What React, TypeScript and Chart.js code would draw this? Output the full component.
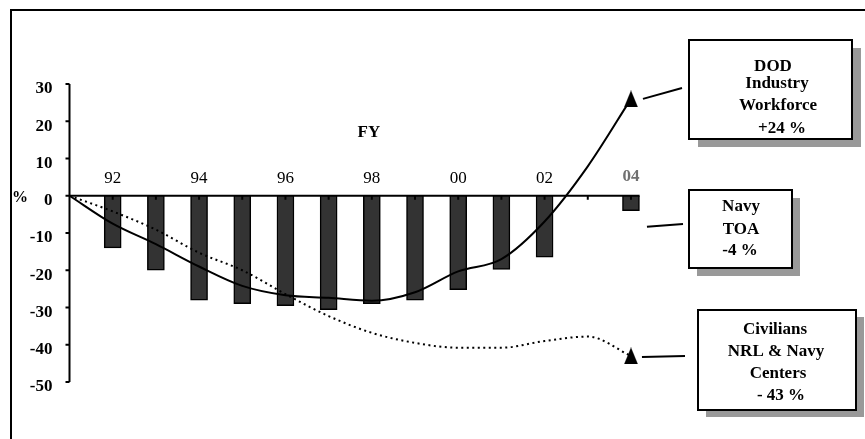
import React, { useEffect, useRef } from 'react';
import { Chart, registerables } from 'chart.js';

Chart.register(...registerables);

// ---- data ----
const years = [91, 92, 93, 94, 95, 96, 97, 98, 99, 100, 101, 102, 103, 104];
const navyTOA: (number | null)[] = [null, -14, -20, -28, -29, -29.5, -30.6, -29, -28, -25.2, -19.8, -16.5, null, -4];
const dodIndustryWorkforce = [0, -7.5, -13, -19, -24.2, -26.7, -27.4, -28.2, -25.9, -20.3, -17, -6.9, 7.9, 26];
const civiliansNRLNavy = [0, -4.2, -9.1, -15.3, -20, -26.4, -32.3, -36.8, -39.5, -40.8, -40.8, -39, -37.8, -43];
const xLabelYears = [92, 94, 96, 98, 100, 102];
const highlightYear = 104;
const yTicks = [30, 20, 10, 0, -10, -20, -30, -40, -50];
const dodBoxText = ['DOD', 'Industry', 'Workforce', '+24 %'];
const navyBoxText = ['Navy', 'TOA', '-4 %'];
const civBoxText = ['Civilians', 'NRL & Navy', 'Centers', '- 43 %'];

const FONT = '"Liberation Serif", "Times New Roman", serif';

const yearLabel = (v: number) => String(v % 100).padStart(2, '0');

function makeTriangle(): HTMLCanvasElement {
  const c = document.createElement('canvas');
  c.width = 14;
  c.height = 17;
  const g = c.getContext('2d')!;
  g.beginPath();
  g.moveTo(7, 0);
  g.lineTo(14, 17);
  g.lineTo(0, 17);
  g.closePath();
  g.fillStyle = '#000';
  g.fill();
  return c;
}

function drawBox(
  ctx: CanvasRenderingContext2D,
  x: number,
  y: number,
  w: number,
  h: number,
  sdx: number,
  sdy: number,
  lines: string[],
  pos: [number, number][]
) {
  ctx.save();
  ctx.fillStyle = '#999999';
  ctx.fillRect(x + sdx, y + sdy, w, h);
  ctx.fillStyle = '#ffffff';
  ctx.fillRect(x, y, w, h);
  ctx.strokeStyle = '#000';
  ctx.lineWidth = 2;
  ctx.strokeRect(x, y, w, h);
  ctx.fillStyle = '#000';
  ctx.font = `bold 17px ${FONT}`;
  ctx.textAlign = 'center';
  ctx.textBaseline = 'alphabetic';
  lines.forEach((t, i) => ctx.fillText(t, pos[i][0], pos[i][1]));
  ctx.restore();
}

function line(ctx: CanvasRenderingContext2D, x1: number, y1: number, x2: number, y2: number, w = 2) {
  ctx.save();
  ctx.strokeStyle = '#000';
  ctx.lineWidth = w;
  ctx.beginPath();
  ctx.moveTo(x1, y1);
  ctx.lineTo(x2, y2);
  ctx.stroke();
  ctx.restore();
}

const overlayPlugin = {
  id: 'overlay',
  afterDatasetsDraw(chart: any) {
    const ctx: CanvasRenderingContext2D = chart.ctx;
    const xs = chart.scales.x;
    const ys = chart.scales.y;
    const y0 = ys.getPixelForValue(0);
    const xLeft = xs.getPixelForValue(xs.min);
    const xRight = xs.getPixelForValue(xs.max);

    // y axis
    line(ctx, xLeft, ys.getPixelForValue(yTicks[0]), xLeft, ys.getPixelForValue(yTicks[yTicks.length - 1]), 2);
    ctx.save();
    ctx.font = `bold 17px ${FONT}`;
    ctx.fillStyle = '#000';
    ctx.textAlign = 'right';
    ctx.textBaseline = 'middle';
    yTicks.forEach((v) => {
      const py = ys.getPixelForValue(v);
      line(ctx, xLeft - 4, py, xLeft, py, 2);
      ctx.fillText(String(v), xLeft - 17, py + 5);
    });
    ctx.textAlign = 'left';
    ctx.font = `bold 16px ${FONT}`;
    ctx.fillText('%', 12, y0 + 2);
    ctx.restore();

    // x axis
    line(ctx, xLeft, y0, xRight, y0, 2);
    years.slice(1).forEach((yr) => {
      const px = xs.getPixelForValue(yr);
      line(ctx, px, y0, px, y0 + 4, 2);
    });
    ctx.save();
    ctx.fillStyle = '#000';
    ctx.textAlign = 'center';
    ctx.textBaseline = 'middle';
    ctx.font = `17px ${FONT}`;
    xLabelYears.forEach((yr) => {
      ctx.fillText(yearLabel(yr), xs.getPixelForValue(yr), y0 - 17);
    });
    ctx.font = `bold 17px ${FONT}`;
    ctx.fillStyle = '#707070';
    ctx.fillText(yearLabel(highlightYear), xs.getPixelForValue(highlightYear), y0 - 19);
    ctx.fillStyle = '#000';
    ctx.font = `bold 17px ${FONT}`;
    ctx.fillText('FY', xs.getPixelForValue(98) - 3, 133);
    ctx.restore();
  },
  afterDraw(chart: any) {
    const ctx: CanvasRenderingContext2D = chart.ctx;
    const xs = chart.scales.x;
    const ys = chart.scales.y;
    const last = years.length - 1;
    const px = xs.getPixelForValue(years[last]);

    // outer frame
    ctx.save();
    ctx.strokeStyle = '#000';
    ctx.lineWidth = 2;
    ctx.strokeRect(11, 10, 1000, 600);
    ctx.restore();

    // connectors
    line(ctx, px + 12, ys.getPixelForValue(dodIndustryWorkforce[last]), 682, 88);
    line(ctx, px + 16, ys.getPixelForValue(navyTOA[last] as number) + 16, 683, 224);
    line(ctx, px + 11, ys.getPixelForValue(civiliansNRLNavy[last]) + 1, 685, 356);

    drawBox(ctx, 689, 40, 163, 99, 9, 8, dodBoxText, [
      [773, 71],
      [777, 88],
      [778, 110],
      [782, 133],
    ]);
    drawBox(ctx, 689, 190, 103, 78, 8, 8, navyBoxText, [
      [741, 211],
      [741, 234],
      [740, 255],
    ]);
    drawBox(ctx, 698, 310, 158, 100, 8, 7, civBoxText, [
      [775, 334],
      [776, 356],
      [778, 378],
      [781, 400],
    ]);
  },
};

export default function App() {
  const ref = useRef<HTMLCanvasElement>(null);

  useEffect(() => {
    if (!ref.current) return;
    const tri = makeTriangle();
    const last = years.length - 1;
    const lastOnly = (big: number) => (c: any) => (c.dataIndex === last ? big : 0);

    const chart = new Chart(ref.current, {
      type: 'bar',
      data: {
        datasets: [
          {
            type: 'line',
            label: 'DOD Industry Workforce',
            data: years.map((yr, i) => ({ x: yr, y: dodIndustryWorkforce[i] })),
            borderColor: '#000',
            borderWidth: 2,
            cubicInterpolationMode: 'monotone',
            pointStyle: (c: any) => (c.dataIndex === last ? tri : 'circle'),
            pointRadius: lastOnly(8),
            pointBackgroundColor: '#000',
            pointBorderWidth: 0,
            fill: false,
            order: 1,
            clip: false,
          } as any,
          {
            type: 'line',
            label: 'Civilians NRL & Navy Centers',
            data: years.map((yr, i) => ({ x: yr, y: civiliansNRLNavy[i] })),
            borderColor: '#000',
            borderWidth: 2,
            borderDash: [2, 3.5],
            cubicInterpolationMode: 'monotone',
            pointStyle: (c: any) => (c.dataIndex === last ? tri : 'circle'),
            pointRadius: lastOnly(8),
            pointBackgroundColor: '#000',
            pointBorderWidth: 0,
            fill: false,
            order: 1,
            clip: false,
          } as any,
          {
            type: 'bar',
            label: 'Navy TOA',
            data: years
              .map((yr, i) => ({ x: yr, y: navyTOA[i] }))
              .filter((p) => p.y !== null) as any,
            backgroundColor: '#333333',
            borderColor: '#000',
            borderWidth: 1.5,
            barThickness: 17,
            order: 2,
            clip: false,
          } as any,
        ],
      },
      options: {
        responsive: false,
        animation: false,
        devicePixelRatio: 1,
        layout: { padding: { left: 69.5, right: 225.4, top: 84, bottom: 57 } },
        scales: {
          x: { type: 'linear', min: 91, max: 104.2, offset: false, display: false },
          y: { type: 'linear', min: -50, max: 30, display: false },
        },
        plugins: {
          legend: { display: false },
          tooltip: { enabled: false },
        },
      },
      plugins: [overlayPlugin],
    });
    return () => chart.destroy();
  }, []);

  return (
    <canvas
      ref={ref}
      width={865}
      height={439}
      style={{ position: 'fixed', left: 0, top: 0, background: '#fff' }}
    />
  );
}
